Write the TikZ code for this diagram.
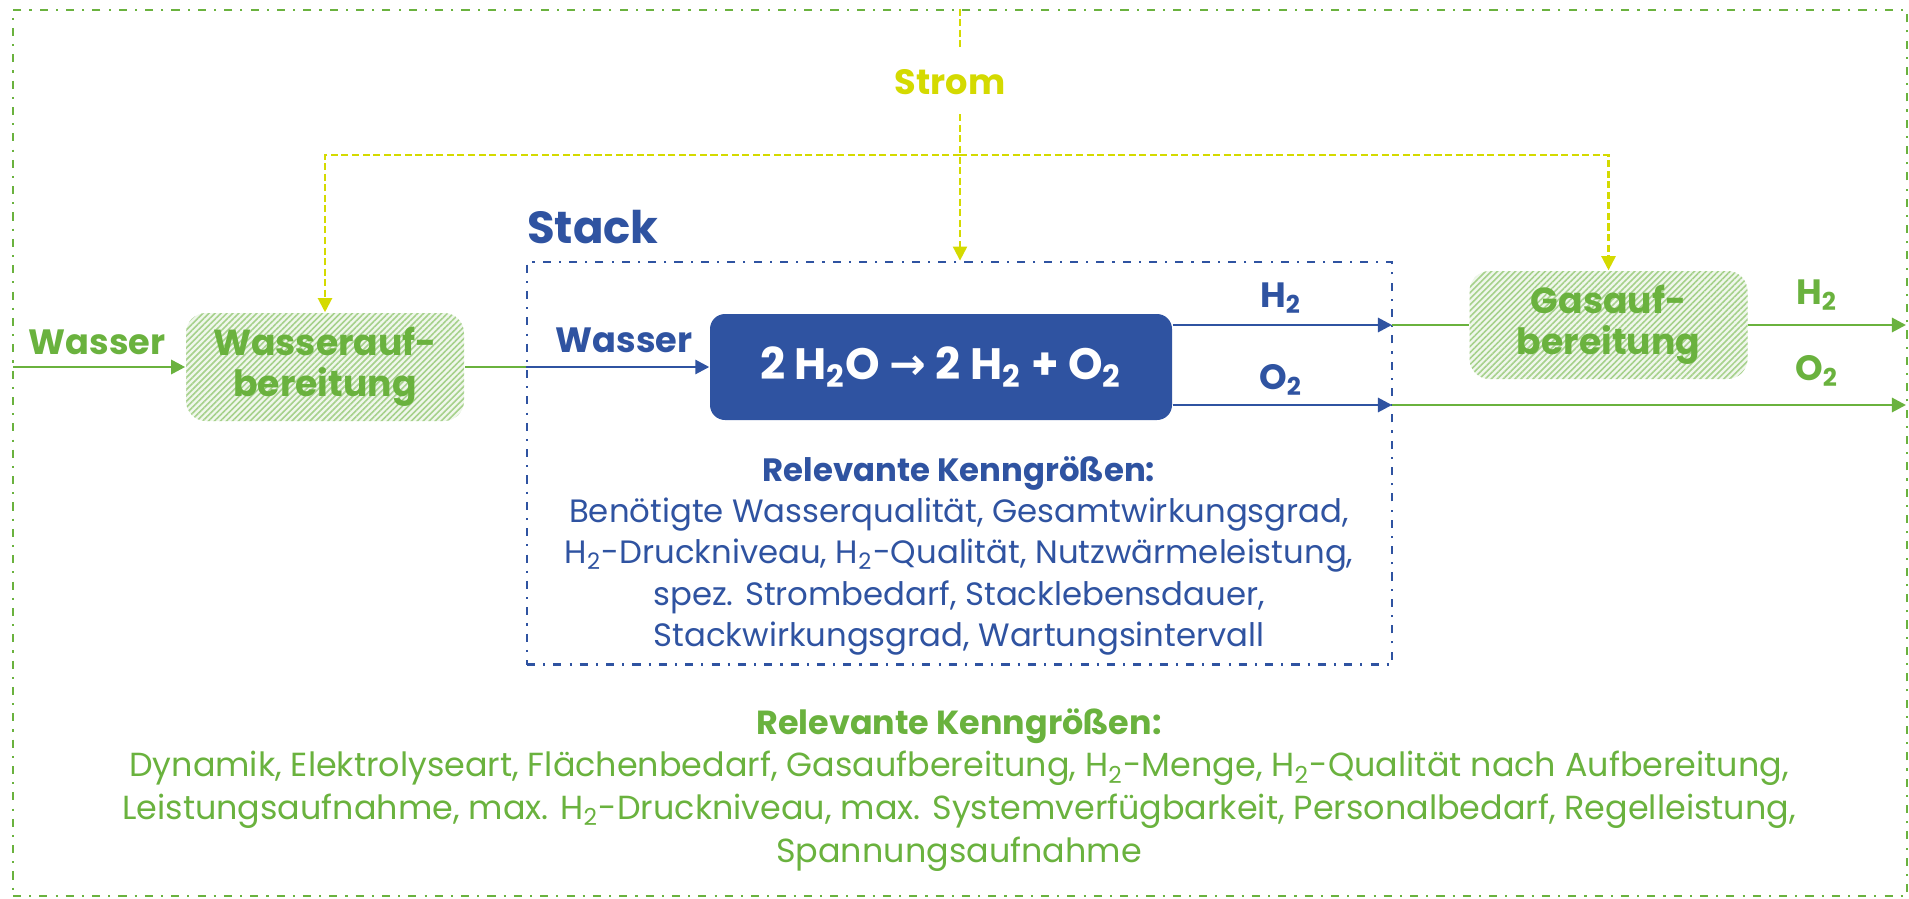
\documentclass[tikz,border=0pt]{standalone}
\usepackage{fontspec}
\setmainfont{Poppins}
\newfontfamily\pfeilfont{DejaVu Sans}
\usetikzlibrary{arrows.meta,patterns.meta}
\definecolor{gruen}{HTML}{6AB23E}
\definecolor{blau}{HTML}{2F53A1}
\definecolor{gelb}{HTML}{D4DA00}
\newcommand{\zwei}{\textsubscript{2}}

\begin{document}
\begin{tikzpicture}[
    strichpunkt/.style={line width=0.8pt, dash pattern=on 2.3pt off 2.3pt on 0.6pt off 2.3pt},
    strom/.style={gelb, line width=0.6pt, dash pattern=on 2pt off 1pt},
    fluss/.style={line width=0.8pt},
    spitze/.style={-{Triangle[length=4pt, width=4pt]}},
    titel/.style={font=\fontsize{10}{12}\selectfont\bfseries},
    aufbereitung/.style={rounded corners=0.2cm, minimum width=2.78cm, minimum height=1.08cm, inner sep=0pt,
        pattern={Lines[angle=45, distance=1.2pt, line width=0.45pt]}, pattern color=gruen!60,
        preaction={fill=gruen!10}, text=gruen, align=center, font=\fontsize{10.3}{11.6}\selectfont\bfseries},
    liste/.style={align=center, inner sep=0pt, anchor=north}
]
\useasboundingbox (0, 0) rectangle (19.09, -8.98);

% Rahmen: System und Stack
\node [draw=gruen, strichpunkt, minimum width=18.94cm, minimum height=8.86cm] (system) at (9.60, -4.53) {};
\node [draw=blau, strichpunkt, minimum width=8.65cm, minimum height=4.025cm] (stack) at (9.595, -4.6325) {};
\node [blau, font=\fontsize{12.8}{15}\selectfont\bfseries] (stacktitel) at (5.93, -2.27) {Stack};

% Knoten
\node [titel, gruen] (wasserein) at (0.97, -3.42) {Wasser};
\node [aufbereitung] (wauf) at (3.25, -3.67) {Wasserauf-\\bereitung};
\node [titel, blau] (wasserstack) at (6.24, -3.40) {Wasser};
\node [fill=blau, rounded corners=0.15cm, minimum width=4.62cm, minimum height=1.06cm, text=white,
    font=\fontsize{12.5}{14}\selectfont\bfseries] (reaktion) at (9.41, -3.67)
    {2 H\zwei O {\pfeilfont →} 2 H\zwei{} + O\zwei};
\node [aufbereitung] (gauf) at (16.085, -3.25) {Gasauf-\\bereitung};
\node [titel, blau] (h2stack) at (12.81, -2.98) {H\zwei};
\node [titel, blau] (o2stack) at (12.81, -3.80) {O\zwei};
\node [titel, gruen] (h2gas) at (18.17, -2.95) {H\zwei};
\node [titel, gruen] (o2gas) at (18.17, -3.71) {O\zwei};
\node [titel, gelb, inner sep=0.19cm] (strom) at (9.50, -0.82) {Strom};

\coordinate (ein) at (0.13, -3.67);
\coordinate (h2aus) at (13.92, -3.25);
\coordinate (o2aus) at (13.92, -4.05);
\coordinate (h2ende) at (19.06, -3.25);
\coordinate (o2ende) at (19.06, -4.05);
\coordinate (verteiler) at (9.60, -1.55);

% Stoffstroeme
\draw [fluss, gruen, spitze] (ein) -- (wauf);
\draw [fluss, gruen] (wauf) -- (stack.west |- wauf);
\draw [fluss, blau, spitze] (stack.west |- reaktion) -- (reaktion);
\draw [fluss, blau, spitze] (reaktion.east |- h2aus) -- (h2aus);
\draw [fluss, blau, spitze] (reaktion.east |- o2aus) -- (o2aus);
\draw [fluss, gruen] (h2aus) -- (gauf);
\draw [fluss, gruen, spitze] (gauf) -- (h2ende);
\draw [fluss, gruen, spitze] (o2aus) -- (o2ende);

% Strom
\draw [strom] (system.north -| verteiler) -- (verteiler |- strom.north);
\draw [strom, spitze] (verteiler |- strom.south) -- (verteiler |- stack.north);
\draw [strom, spitze] (verteiler) -| (wauf.north);
\draw [strom, spitze] (verteiler) -| (gauf.north);

% Kenngroessen
\node [liste, blau, font=\fontsize{9.2}{11.7}\selectfont] (stackgroessen) at (9.59, -4.56)
    {\textbf{Relevante Kenngrößen:}\\
     Benötigte Wasserqualität, Gesamtwirkungsgrad,\\
     H\zwei-Druckniveau, H\zwei-Qualität, Nutzwärmeleistung,\\
     spez. Strombedarf, Stacklebensdauer,\\
     Stackwirkungsgrad, Wartungsintervall};
\node [liste, gruen, font=\fontsize{9.5}{12.1}\selectfont] (systemgroessen) at (9.59, -7.08)
    {\textbf{Relevante Kenngrößen:}\\
     Dynamik, Elektrolyseart, Flächenbedarf, Gasaufbereitung, H\zwei-Menge, H\zwei-Qualität nach Aufbereitung,\\
     Leistungsaufnahme, max. H\zwei-Druckniveau, max. Systemverfügbarkeit, Personalbedarf, Regelleistung,\\
     Spannungsaufnahme};
\end{tikzpicture}
\end{document}
